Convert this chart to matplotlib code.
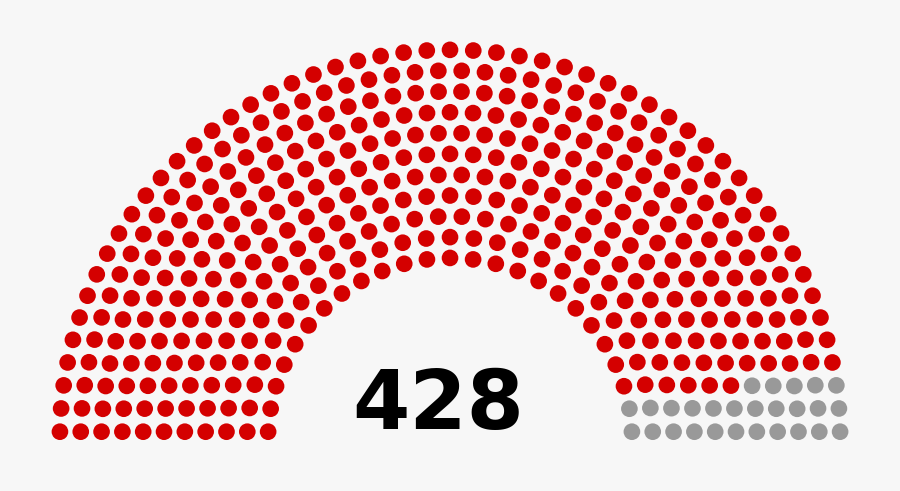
import math
import matplotlib
matplotlib.use("Agg")
import matplotlib.pyplot as plt
from matplotlib.patches import Circle

# data
parties = ['Majority', 'Other']
seats = [401, 27]
colors = ['#d40000', '#999999']
total = sum(seats)

# seats needed for each row count (parliament diagram layout)
totals = [3, 15, 33, 61, 95, 138, 189, 247, 313, 388, 469, 559, 655, 762, 876, 997]

rows = next(i + 1 for i, t in enumerate(totals) if t >= total)
radius = 0.4 / rows

poslist = []
for i in range(1, rows):
    J = int(float(total) / totals[rows - 1] * math.pi / (2 * math.asin(2.0 / (3.0 * rows + 4.0 * i - 2.0))))
    R = (3.0 * rows + 4.0 * i - 2.0) / (4.0 * rows)
    for j in range(J):
        a = j * (math.pi - 2.0 * math.sin(radius / R)) / (J - 1.0) + math.sin(radius / R)
        poslist.append((a, R * math.cos(a) + 1.75, R * math.sin(a)))
J = total - len(poslist)
R = (7.0 * rows - 2.0) / (4.0 * rows)
for j in range(J):
    a = j * (math.pi - 2.0 * math.sin(radius / R)) / (J - 1.0) + math.sin(radius / R)
    poslist.append((a, R * math.cos(a) + 1.75, R * math.sin(a)))
poslist.sort(reverse=True)

# svg units -> picture
s, ox, oy = 2.289, 38, 28
W, H = 900, 491

fig = plt.figure(figsize=(9, 4.91), dpi=100, facecolor='#f7f7f7')
ax = fig.add_axes([0, 0, 1, 1])
ax.set_facecolor('#f7f7f7')
ax.set_xlim(-ox / s, (W - ox) / s)
ax.set_ylim((H - oy) / s, -oy / s)
ax.axis('off')

k = 0
for n, c in zip(seats, colors):
    for _ in range(n):
        _, x, y = poslist[k]
        ax.add_patch(Circle((x * 100 + 5, 100 * (1.75 - y) + 5), radius * 100, color=c, lw=0))
        k += 1

ax.text(175, 175, str(total), ha='center', va='baseline', fontsize=36 * s * 0.72,
        fontweight='bold', family='DejaVu Sans')

fig.savefig('out.png', dpi=100, facecolor='#f7f7f7')
